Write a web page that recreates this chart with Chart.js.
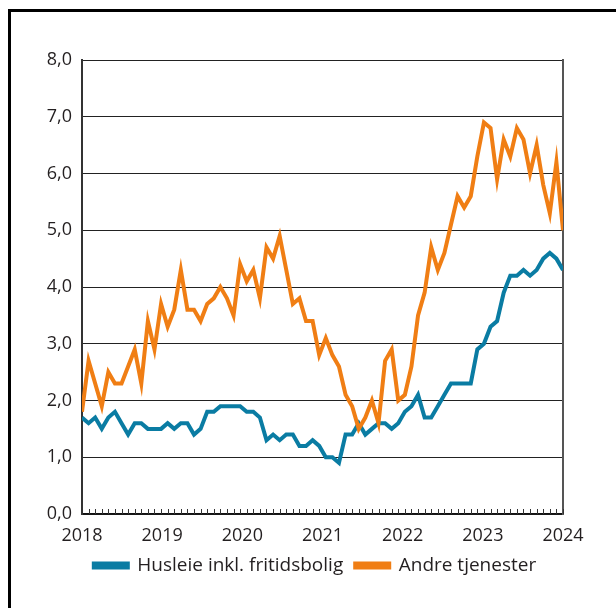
<!DOCTYPE html>
<html lang="no">
<head>
<meta charset="UTF-8">
<title>Husleie og andre tjenester</title>
<script src="https://cdn.jsdelivr.net/npm/chart.js"></script>
<style>
  html, body { margin: 0; padding: 0; background: #fff; }
  #wrap { position: relative; width: 616px; height: 608px; overflow: hidden; }
  #frame { position: absolute; left: 8px; top: 9px; width: 640px; height: 640px;
           border-left: 3px solid #000; border-top: 3px solid #000; }
  canvas { position: absolute; left: 0; top: 0; }
</style>
</head>
<body>
<div id="wrap">
  <div id="frame"></div>
  <canvas id="myChart" width="616" height="608"></canvas>
</div>
<script>
// månedlige tall, jan 2018 - feb 2024 (prosent)
const husleie = [
  1.7, 1.6, 1.7, 1.5, 1.7, 1.8, 1.6, 1.4, 1.6, 1.6, 1.5, 1.5,
  1.5, 1.6, 1.5, 1.6, 1.6, 1.4, 1.5, 1.8, 1.8, 1.9, 1.9, 1.9,
  1.9, 1.8, 1.8, 1.7, 1.3, 1.4, 1.3, 1.4, 1.4, 1.2, 1.2, 1.3,
  1.2, 1.0, 1.0, 0.9, 1.4, 1.4, 1.6, 1.4, 1.5, 1.6, 1.6, 1.5,
  1.6, 1.8, 1.9, 2.1, 1.7, 1.7, 1.9, 2.1, 2.3, 2.3, 2.3, 2.3,
  2.9, 3.0, 3.3, 3.4, 3.9, 4.2, 4.2, 4.3, 4.2, 4.3, 4.5, 4.6,
  4.5, 4.3
];
const andreTjenester = [
  1.8, 2.7, 2.3, 1.9, 2.5, 2.3, 2.3, 2.6, 2.9, 2.3, 3.4, 2.9,
  3.7, 3.3, 3.6, 4.3, 3.6, 3.6, 3.4, 3.7, 3.8, 4.0, 3.8, 3.5,
  4.4, 4.1, 4.3, 3.8, 4.7, 4.5, 4.9, 4.3, 3.7, 3.8, 3.4, 3.4,
  2.8, 3.1, 2.8, 2.6, 2.1, 1.9, 1.5, 1.7, 2.0, 1.6, 2.7, 2.9,
  2.0, 2.1, 2.6, 3.5, 3.9, 4.7, 4.3, 4.6, 5.1, 5.6, 5.4, 5.6,
  6.3, 6.9, 6.8, 5.9, 6.6, 6.3, 6.8, 6.6, 6.0, 6.5, 5.8, 5.3,
  6.2, 5.0
];
const seriesNames = ['Husleie inkl. fritidsbolig', 'Andre tjenester'];
const yearLabels = ['2018', '2019', '2020', '2021', '2022', '2023', '2024'];
const yTicks = [0, 1, 2, 3, 4, 5, 6, 7, 8];

// kategorier: en per måned
const months = [];
for (let i = 0; i < husleie.length; i++) {
    const y = 2018 + Math.floor(i / 12);
    months.push(y + '-' + String(i % 12 + 1).padStart(2, '0'));
}
const lastIdx = months.length - 1;

Chart.defaults.font.family = "'Open Sans', sans-serif";
Chart.defaults.font.size = 18;
Chart.defaults.color = '#231f20';

// små månedsstreker innover fra x-aksen
const monthTicks = {
    id: 'monthTicks',
    afterDraw(chart) {
        const { ctx, chartArea, scales } = chart;
        ctx.save();
        ctx.strokeStyle = '#333';
        ctx.lineWidth = 1;
        ctx.beginPath();
        months.forEach((m, i) => {
            const x = Math.round(scales.x.getPixelForValue(i)) + 0.5;
            ctx.moveTo(x, chartArea.bottom);
            ctx.lineTo(x, chartArea.bottom - 5);
        });
        ctx.stroke();
        ctx.restore();
    }
};

const ctx = document.querySelector('#myChart');
const chart = new Chart(ctx, {
    type: 'line',
    data: {
        labels: months,
        datasets: [
            {
                label: seriesNames[0],
                data: husleie.map((v, i) => ({ x: i, y: v })),
                borderColor: '#0a7ca3',
                backgroundColor: '#0a7ca3',
                borderWidth: 4,
                pointRadius: 0,
                tension: 0,
                order: 1
            },
            {
                label: seriesNames[1],
                data: andreTjenester.map((v, i) => ({ x: i, y: v })),
                borderColor: '#f07e14',
                backgroundColor: '#f07e14',
                borderWidth: 4,
                pointRadius: 0,
                tension: 0,
                order: 0
            }
        ]
    },
    options: {
        responsive: false,
        animation: false,
        layout: { padding: { top: 60, left: 20, right: 6, bottom: 23 } },
        plugins: {
            tooltip: { enabled: false },
            legend: {
                position: 'bottom',
                labels: {
                    boxWidth: 34,
                    boxHeight: 4,
                    padding: 12,
                    font: { size: 19 },
                    sort: (a, b) => a.datasetIndex - b.datasetIndex
                }
            }
        },
        scales: {
            x: {
                type: 'linear',
                min: 0,
                max: lastIdx,
                afterBuildTicks: (s) => {
                    s.ticks = yearLabels.map((l, i) => ({ value: i * lastIdx / (yearLabels.length - 1) }));
                },
                afterFit: (s) => { s.height = 30; },
                ticks: {
                    padding: 11,
                    maxRotation: 0,
                    autoSkip: false,
                    callback: (v, i) => yearLabels[i]
                },
                grid: { display: false, drawTicks: false },
                border: { display: true, color: '#111', width: 1.5 }
            },
            y: {
                min: 0,
                max: 8,
                afterBuildTicks: (s) => { s.ticks = yTicks.map(v => ({ value: v })); },
                afterFit: (s) => { s.width = 62; },
                ticks: {
                    padding: 10,
                    callback: (v) => v.toFixed(1).replace('.', ',')
                },
                grid: { color: '#222', lineWidth: 1, drawTicks: false },
                border: { display: true, color: '#333', width: 2 }
            },
            y2: {
                position: 'right',
                min: 0,
                max: 8,
                afterFit: (s) => { s.width = 47; },
                ticks: { display: false },
                grid: { display: false, drawTicks: false },
                border: { display: true, color: '#555', width: 2 }
            }
        }
    },
    plugins: [monthTicks]
});
</script>
</body>
</html>
